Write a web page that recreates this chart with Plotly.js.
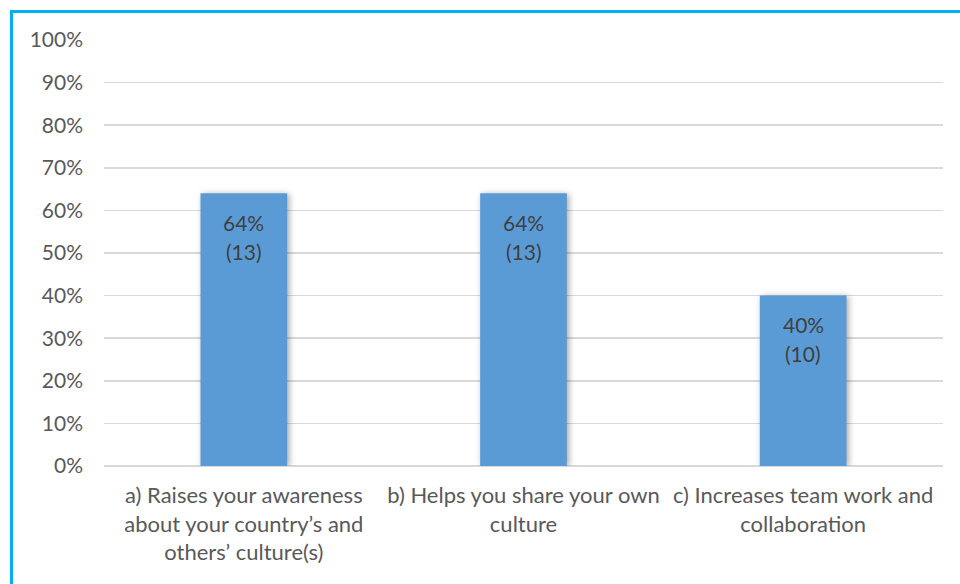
<!DOCTYPE html>
<html>
<head>
<meta charset="utf-8">
<script src="https://cdn.plot.ly/plotly-3.0.1.min.js"></script>
<style>
  html, body { margin: 0; padding: 0; background: #fff; }
  #wrap { position: relative; width: 960px; height: 584px; overflow: hidden; }
  #chart { position: absolute; left: 0; top: 0; width: 960px; height: 584px; }
  #frame { position: absolute; left: 10px; top: 10px; width: 960px; height: 600px;
           border-top: 3px solid #00B0F0; border-left: 3px solid #00B0F0; pointer-events: none; }
  #chart .bars .point path { filter: drop-shadow(2px 1px 3px rgba(0,0,0,0.35)); }
</style>
</head>
<body>
<div id="wrap">
  <div id="chart"></div>
  <div id="frame"></div>
</div>
<script>
const categories = [
  "a) Raises your awareness<br>about your country’s and<br>others’ culture(s)",
  "b) Helps you share your own<br>culture",
  "c) Increases team work and<br>collaboration"
];
const percentValues = [0.64, 0.64, 0.40];
const counts = [13, 13, 10];
const yTickValues = [0, 0.1, 0.2, 0.3, 0.4, 0.5, 0.6, 0.7, 0.8, 0.9, 1.0];
const yTickLabels = ["0%", "10%", "20%", "30%", "40%", "50%", "60%", "70%", "80%", "90%", "100%"];

const fontFamily = "Lato, 'Open Sans', sans-serif";
const labelFont = { family: fontFamily, size: 21, color: "#404040" };

const trace = {
  type: "bar",
  x: categories,
  y: percentValues,
  marker: { color: "#5B9BD5" },
  hoverinfo: "skip"
};

const annotations = [];
categories.forEach((c, i) => {
  annotations.push({
    x: c, y: percentValues[i], xref: "x", yref: "y",
    text: Math.round(percentValues[i] * 100) + "%",
    showarrow: false, yanchor: "middle", yshift: -29,
    font: labelFont
  });
  annotations.push({
    x: c, y: percentValues[i], xref: "x", yref: "y",
    text: "(" + counts[i] + ")",
    showarrow: false, yanchor: "middle", yshift: -58,
    font: labelFont
  });
});

const layout = {
  width: 960,
  height: 584,
  margin: { l: 104, r: 17, t: 40, b: 118 },
  paper_bgcolor: "#ffffff",
  plot_bgcolor: "#ffffff",
  bargap: 0.69,
  showlegend: false,
  font: { family: fontFamily, size: 22, color: "#595959" },
  xaxis: {
    type: "category",
    showline: false,
    showgrid: false,
    zeroline: false,
    ticks: "",
    ticklabelstandoff: 14,
    tickfont: { family: fontFamily, size: 22, color: "#595959" },
    automargin: false
  },
  yaxis: {
    range: [0, 1],
    tickvals: yTickValues,
    ticktext: yTickLabels,
    showgrid: true,
    gridcolor: "#D9D9D9",
    gridwidth: 1.5,
    zeroline: true,
    zerolinecolor: "#D9D9D9",
    zerolinewidth: 1.5,
    showline: false,
    ticks: "",
    ticklabelstandoff: 20,
    tickfont: { family: fontFamily, size: 21, color: "#595959" },
    automargin: false
  },
  annotations: annotations
};

Plotly.newPlot("chart", [trace], layout, { displayModeBar: false, staticPlot: true });
</script>
</body>
</html>
